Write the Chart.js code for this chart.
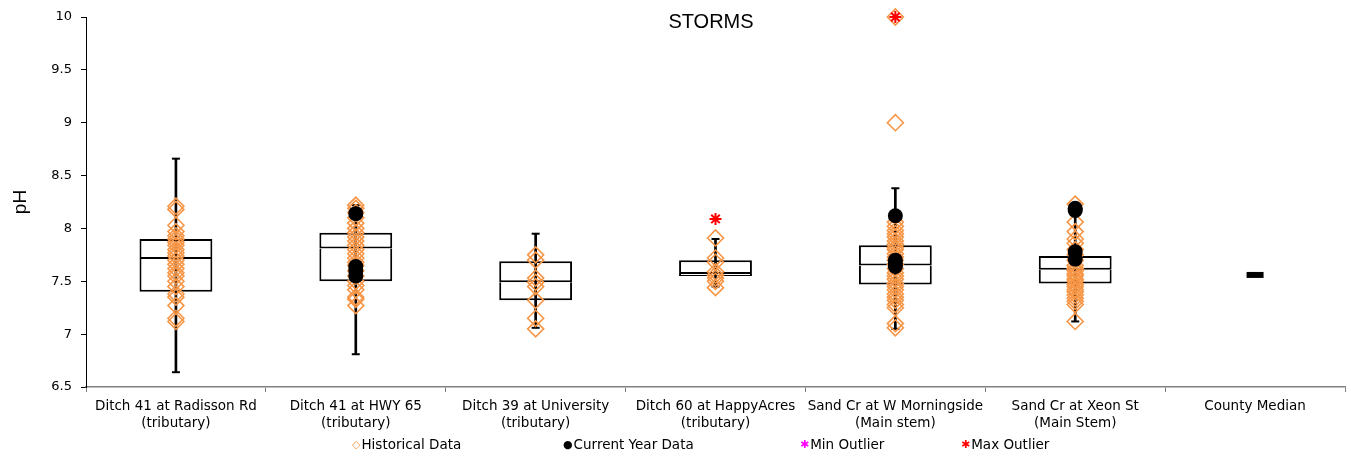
<!DOCTYPE html>
<html>
<head>
<meta charset="utf-8">
<title>STORMS pH</title>
<script src="https://cdn.jsdelivr.net/npm/chart.js@4.4.1/dist/chart.umd.min.js"></script>
<style>
  html, body { margin: 0; padding: 0; background: #fff; }
  #wrap { position: relative; width: 1351px; height: 456px; overflow: hidden; }
  #chart { position: absolute; left: 0; top: 0; }
  #title { position: absolute; left: 561px; width: 300px; top: 10px; text-align: center;
           font: 20px "Liberation Sans", Arial, sans-serif; color: #000; }
  .lg { position: absolute; top: 436px; font: 13.5px "DejaVu Sans", sans-serif; color: #000; white-space: nowrap; }
  .lg i { font-style: normal; display: inline-block; margin-right: 1px; font-size: 11px; vertical-align: 1px; }
</style>
</head>
<body>
<div id="wrap">
  <canvas id="chart" width="1351" height="456"></canvas>
  <div id="title">STORMS</div>
  <div class="lg" style="left:352px"><i style="color:#F79646">&#9671;</i>Historical Data</div>
  <div class="lg" style="left:563px"><i style="color:#000">&#9679;</i>Current Year Data</div>
  <div class="lg" style="left:800px"><i style="color:#FF00FF">&#10033;</i>Min Outlier</div>
  <div class="lg" style="left:961px"><i style="color:#FF0000">&#10033;</i>Max Outlier</div>
</div>
<script>
// Sampling sites along the x axis
const sites = ['Ditch 41 at Radisson Rd', 'Ditch 41 at HWY 65', 'Ditch 39 at University',
               'Ditch 60 at HappyAcres', 'Sand Cr at W Morningside', 'Sand Cr at Xeon St', 'County Median'];
const siteTypes = ['(tributary)', '(tributary)', '(tributary)', '(tributary)', '(Main stem)', '(Main Stem)', ''];

// Box-and-whisker summaries (pH)
const whiskerLow  = [6.64, 6.81, 7.06, 7.45, 7.05, 7.12, null];
const whiskerHigh = [8.66, 8.22, 7.95, 7.90, 8.38, 8.23, null];
const q1          = [7.40, 7.50, 7.32, 7.55, 7.47, 7.48, null];
const median      = [7.71, 7.81, 7.49, 7.57, 7.65, 7.61, null];
const q3          = [7.90, 7.96, 7.69, 7.70, 7.84, 7.74, null];
const countyMedian = 7.56;

// Individual samples per site
const historical = [
  [8.21, 8.18, 8.03, 7.97, 7.93, 7.90, 7.87, 7.84, 7.80, 7.77, 7.74, 7.70, 7.66, 7.62, 7.58, 7.55, 7.50, 7.45, 7.38, 7.35, 7.27, 7.15, 7.12],
  [8.22, 8.19, 8.15, 8.10, 8.05, 8.00, 7.96, 7.92, 7.88, 7.84, 7.80, 7.76, 7.72, 7.68, 7.65, 7.60, 7.55, 7.50, 7.46, 7.42, 7.35, 7.33, 7.27],
  [7.75, 7.70, 7.53, 7.49, 7.45, 7.32, 7.15, 7.05],
  [7.91, 7.72, 7.68, 7.59, 7.56, 7.53, 7.50, 7.44],
  [10.0, 9.00, 8.06, 8.02, 7.98, 7.95, 7.92, 7.88, 7.85, 7.82, 7.80, 7.76, 7.73, 7.70, 7.66, 7.62, 7.58, 7.55, 7.52, 7.48, 7.45, 7.42, 7.38, 7.35, 7.32, 7.28, 7.25, 7.10, 7.06],
  [8.23, 8.06, 7.97, 7.90, 7.86, 7.80, 7.75, 7.70, 7.65, 7.62, 7.60, 7.57, 7.55, 7.52, 7.50, 7.47, 7.45, 7.42, 7.40, 7.37, 7.34, 7.31, 7.28, 7.12],
  []
];
const currentYear = [
  [],
  [8.14, 7.64, 7.60, 7.55],
  [],
  [],
  [8.12, 7.70, 7.67, 7.64],
  [8.19, 8.17, 7.78, 7.71],
  []
];
const minOutliers = [[], [], [], [], [], [], []];
const maxOutliers = [[], [], [], [8.09], [10.0], [], []];

const yTicks = [6.5, 7, 7.5, 8, 8.5, 9, 9.5, 10];

// helpers turning the per-site lists into {x, y} points
const toPoints = lists => lists.flatMap((vals, i) => vals.map(v => ({ x: sites[i], y: v })));
const range = (a, b) => sites.map((s, i) => (a[i] == null ? null : [a[i], b[i]]));

const FONT = '"DejaVu Sans", sans-serif';
const ORANGE = '#F79646';

const boxCommon = {
  type: 'bar',
  backgroundColor: '#ffffff',
  borderColor: '#000000',
  borderSkipped: false,
  grouped: false,
  barPercentage: 0.405,
  categoryPercentage: 1,
  order: 5
};
const pointCommon = { type: 'line', showLine: false, pointHitRadius: 0, clip: false };

new Chart(document.getElementById('chart'), {
  type: 'bar',
  data: {
    labels: sites,
    datasets: [
      { ...boxCommon, label: 'Lower box', data: range(q1, median),
        borderWidth: { top: 0, bottom: 2, left: 2, right: 2 } },
      { ...boxCommon, label: 'Upper box', data: range(median, q3),
        borderWidth: { top: 2, bottom: 2, left: 2, right: 2 } },
      { type: 'bar', label: 'Whisker', data: range(whiskerLow, whiskerHigh),
        backgroundColor: '#000000', borderWidth: 0, barThickness: 2, grouped: false, order: 3 },
      { ...pointCommon, label: 'Whisker caps',
        data: toPoints(sites.map((s, i) => whiskerLow[i] == null ? [] : [whiskerLow[i], whiskerHigh[i]])),
        pointStyle: 'line', pointRadius: 4, pointBorderWidth: 2, pointBorderColor: '#000', order: 3 },
      { ...pointCommon, label: 'Historical Data', data: toPoints(historical),
        pointStyle: 'rectRot', pointRadius: 8, pointBorderWidth: 1.6,
        pointBorderColor: ORANGE, pointBackgroundColor: 'rgba(255,255,255,0)', order: 2 },
      { ...pointCommon, label: 'Current Year Data', data: toPoints(currentYear),
        pointStyle: 'circle', pointRadius: 7.5, pointBorderWidth: 0,
        pointBackgroundColor: '#000', pointBorderColor: '#000', order: 1 },
      { ...pointCommon, label: 'Min Outlier', data: toPoints(minOutliers),
        pointStyle: 'star', pointRadius: 6, pointBorderWidth: 2, pointBorderColor: '#FF00FF', order: 0 },
      { ...pointCommon, label: 'Max Outlier', data: toPoints(maxOutliers),
        pointStyle: 'star', pointRadius: 6, pointBorderWidth: 2, pointBorderColor: '#FF0000', order: 0 },
      { ...pointCommon, label: 'County Median', data: [{ x: 'County Median', y: countyMedian }],
        pointStyle: 'line', pointRadius: 8.5, pointBorderWidth: 6, pointBorderColor: '#000', order: 0 }
    ]
  },
  options: {
    responsive: false,
    animation: false,
    events: [],
    layout: { autoPadding: false, padding: { left: 5, right: 6, top: 17, bottom: 24 } },
    plugins: { legend: { display: false }, tooltip: { enabled: false }, title: { display: false } },
    scales: {
      x: {
        type: 'category',
        offset: true,
        grid: { offset: true, drawOnChartArea: false, drawTicks: true, tickLength: 5, color: '#808080', lineWidth: 1 },
        border: { display: true, color: '#808080', width: 1.5 },
        ticks: {
          autoSkip: false, maxRotation: 0, minRotation: 0, padding: 6, color: '#000',
          font: { family: FONT, size: 13.5, lineHeight: 1.26 },
          callback: (v, i) => (siteTypes[i] ? [sites[i], siteTypes[i]] : sites[i])
        },
        afterFit: s => { s.height = 45; s.paddingLeft = 0; s.paddingRight = 0; }
      },
      y: {
        min: 6.5, max: 10,
        afterBuildTicks: s => { s.ticks = yTicks.map(v => ({ value: v })); },
        grid: { drawOnChartArea: false, drawTicks: true, tickLength: 5, color: '#000', lineWidth: 1 },
        border: { display: true, color: '#000', width: 1 },
        ticks: { padding: 9, color: '#000', font: { family: FONT, size: 13 }, callback: v => String(v) },
        title: { display: true, text: 'pH', color: '#000', padding: 4, font: { family: '"Liberation Sans", Arial, sans-serif', size: 19 } },
        afterFit: s => { s.width = 81; }
      }
    }
  }
});
</script>
</body>
</html>
